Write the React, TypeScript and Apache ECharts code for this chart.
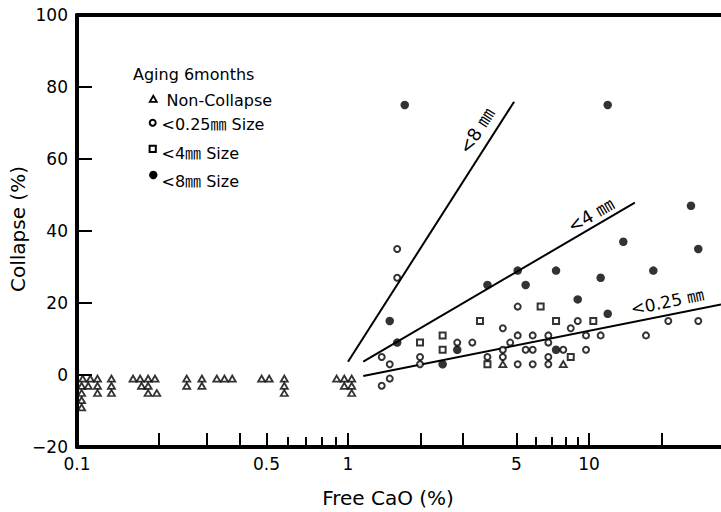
import React, { useEffect, useRef } from "react";
import * as echarts from "echarts";

// ---- axis ticks / labels ----
const yMin = -20;
const yMax = 100;
const yStep = 20;
const xLabelsLeft = [0.1, 0.5];
const xLabelsRight = [1, 5, 10];
const xMajorLeft = [0.2, 0.3, 0.4, 0.5, 1];
const xMinorLeft = [0.6, 0.7, 0.8, 0.9];
const xMajorRight = [2, 3, 5, 10, 20];
const xMinorRight = [6, 7, 8, 9];
const xMin = 0.1;
const xMid = 1;
const xMax = 35.3;

// ---- data: [Free CaO (%), Collapse (%)] ----
const nonCollapse: [number, number][] = [
  [0.105, -1], [0.112, -1], [0.119, -1],
  [0.104, -3], [0.11, -3], [0.119, -3],
  [0.104, -5], [0.119, -5],
  [0.104, -7], [0.104, -9],
  [0.134, -1], [0.134, -3], [0.134, -5],
  [0.161, -1], [0.171, -1], [0.183, -1], [0.194, -1],
  [0.173, -3], [0.183, -3],
  [0.183, -5], [0.197, -5],
  [0.254, -1], [0.254, -3],
  [0.289, -1], [0.289, -3],
  [0.328, -1], [0.35, -1], [0.374, -1],
  [0.48, -1], [0.512, -1],
  [0.582, -1], [0.582, -3], [0.582, -5],
  [0.908, -1], [0.969, -1], [1.036, -1],
  [0.969, -3], [1.036, -3],
  [1.036, -5],
  [4.39, 3], [7.82, 3],
];

const size025: [number, number][] = [
  [1.6, 27], [1.6, 35], [1.38, 5], [1.49, 3], [1.49, -1], [1.38, -3],
  [1.99, 5], [1.99, 3], [2.84, 9], [3.28, 9], [3.79, 5],
  [4.39, 13], [4.39, 7], [4.39, 5], [4.71, 9],
  [5.06, 19], [5.06, 11], [5.06, 3], [5.46, 7],
  [5.84, 11], [5.84, 7], [5.84, 3],
  [6.78, 11], [6.78, 9], [6.78, 5], [6.78, 3],
  [7.82, 7], [8.4, 13], [8.98, 15], [9.72, 11], [9.72, 7],
  [11.18, 11], [17.24, 11], [21.33, 15], [28.41, 15],
];

const size4: [number, number][] = [
  [1.99, 9], [2.47, 11], [2.47, 7], [3.53, 15], [3.79, 3],
  [6.3, 19], [7.3, 15], [8.4, 5], [10.42, 15],
];

const size8: [number, number][] = [
  [1.72, 75], [11.96, 75], [1.49, 15], [1.6, 9], [2.47, 3], [2.84, 7],
  [3.79, 25], [5.06, 29], [5.46, 25], [7.3, 29], [7.3, 7], [8.98, 21],
  [11.18, 27], [11.96, 17], [13.88, 37], [18.49, 29], [26.5, 47], [28.41, 35],
];

const fit8: [number, number][] = [[1.0, 3.7], [4.89, 75.9]];
const fit4: [number, number][] = [[1.157, 3.7], [15.5, 47.9]];
const fit025: [number, number][] = [[1.157, -0.3], [35.3, 19.6]];

const FONT = '"DejaVu Sans", "Noto Sans CJK KR", sans-serif';
const L = Math.log10;

const lg = (p: [number, number]) => [L(p[0]), p[1]];
const leftOf = (a: [number, number][]) => a.filter((p) => p[0] < xMid).map(lg);
const rightOf = (a: [number, number][]) => a.filter((p) => p[0] >= xMid).map(lg);

const fmtX = (v: number) => String(Math.round(Math.pow(10, v) * 100) / 100);
const fmtY = (v: number) => (v < 0 ? "\u2212" + Math.abs(v) : String(v));

export default function App() {
  const ref = useRef<HTMLDivElement>(null);

  useEffect(() => {
    if (!ref.current) return;
    const chart = echarts.init(ref.current, undefined, { renderer: "svg" });

    const top = 15;
    const height = 432;
    const leftX = 77;
    const midX = 348;
    const grids = [
      { left: leftX, top, width: midX - leftX, height },
      { left: midX, top, right: 0, height },
      { left: leftX, top, width: midX - leftX, height },
      { left: midX, top, right: 0, height },
    ];

    const black = "#000";
    const line4 = { show: true, onZero: false, lineStyle: { color: black, width: 4 } };
    const lblStyle = { color: black, fontSize: 17, fontFamily: FONT };

    const mainX = (gi: number, min: number, max: number, major: number[], labels: number[]) => ({
      type: "value",
      gridIndex: gi,
      min,
      max,
      position: "bottom",
      axisLine: line4,
      axisTick: {
        show: true,
        inside: true,
        length: 14,
        lineStyle: { color: black, width: 2 },
        customValues: major.map(L),
      },
      axisLabel: { ...lblStyle, margin: 8, customValues: labels.map(L), formatter: fmtX },
      splitLine: { show: false },
    });
    const topX = (gi: number, min: number, max: number) => ({
      type: "value",
      gridIndex: gi,
      min,
      max,
      position: "top",
      axisLine: line4,
      axisTick: { show: false },
      axisLabel: { show: false },
      splitLine: { show: false },
    });
    const minorX = (gi: number, min: number, max: number, minor: number[]) => ({
      type: "value",
      gridIndex: gi,
      min,
      max,
      position: "bottom",
      axisLine: { show: false, onZero: false },
      axisTick: {
        show: true,
        inside: true,
        length: 10,
        lineStyle: { color: black, width: 2 },
        customValues: minor.map(L),
      },
      axisLabel: { show: false },
      splitLine: { show: false },
    });
    const hiddenY = (gi: number) => ({
      type: "value",
      gridIndex: gi,
      min: yMin,
      max: yMax,
      interval: yStep,
      show: false,
    });

    const openStyle = { color: "#fff", borderColor: black, borderWidth: 2 };

    const scatterPair = (name: string, data: [number, number][], symbol: string, size: any, style: any) => [
      { type: "scatter", name, xAxisIndex: 0, yAxisIndex: 0, data: leftOf(data), symbol, symbolSize: size, itemStyle: style, z: 5 },
      { type: "scatter", name, xAxisIndex: 2, yAxisIndex: 1, data: rightOf(data), symbol, symbolSize: size, itemStyle: style, z: 5 },
    ];
    const fitLine = (name: string, data: [number, number][]) => ({
      type: "line",
      name,
      xAxisIndex: 2,
      yAxisIndex: 1,
      data: data.map(lg),
      symbol: "none",
      lineStyle: { color: black, width: 2 },
      z: 3,
    });

    const txt = (x: number, y: number, text: string, fontSize: number, extra: any = {}) => ({
      type: "text",
      x,
      y,
      style: {
        text,
        fill: black,
        font: `${fontSize}px ${FONT}`,
        align: "left",
        verticalAlign: "middle",
        ...extra,
      },
      z: 20,
    });
    const rotTxt = (x: number, y: number, text: string, fontSize: number, deg: number) => ({
      type: "text",
      x,
      y,
      rotation: (deg * Math.PI) / 180,
      style: {
        text,
        fill: black,
        font: `${fontSize}px ${FONT}`,
        align: "center",
        verticalAlign: "middle",
      },
      z: 20,
    });

    const option: any = {
      animation: false,
      backgroundColor: "#fff",
      grid: grids,
      xAxis: [
        mainX(0, L(xMin), L(xMid), xMajorLeft, xLabelsLeft),
        topX(0, L(xMin), L(xMid)),
        mainX(1, L(xMid), L(xMax), xMajorRight, xLabelsRight),
        topX(1, L(xMid), L(xMax)),
        minorX(2, L(xMin), L(xMid), xMinorLeft),
        minorX(3, L(xMid), L(xMax), xMinorRight),
      ],
      yAxis: [
        {
          type: "value",
          gridIndex: 0,
          min: yMin,
          max: yMax,
          interval: yStep,
          axisLine: line4,
          axisTick: { show: true, inside: true, length: 15, lineStyle: { color: black, width: 2 } },
          axisLabel: { ...lblStyle, margin: 9, formatter: fmtY, padding: [6, 0, 0, 0] },
          splitLine: { show: false },
        },
        hiddenY(1),
        hiddenY(2),
        hiddenY(3),
      ],
      series: [
        fitLine("<8 ㎜", fit8),
        fitLine("<4 ㎜", fit4),
        fitLine("<0.25 ㎜", fit025),
        ...scatterPair("Non-Collapse", nonCollapse, "triangle", [7, 6], { ...openStyle, borderWidth: 1.8 }),
        ...scatterPair("<0.25㎜ Size", size025, "circle", 6, openStyle),
        ...scatterPair("<4㎜ Size", size4, "rect", 6, openStyle),
        ...scatterPair("<8㎜ Size", size8, "circle", 8.5, { color: black }),
      ],
      graphic: [
        txt(133, 74, "Aging 6months", 16),
        {
          type: "polygon",
          shape: { points: [[153.3, 95.8], [149.8, 101.8], [156.8, 101.8]] },
          style: { fill: "#fff", stroke: black, lineWidth: 1.8 },
          z: 20,
        },
        txt(166.5, 100.7, "Non-Collapse", 16),
        { type: "circle", shape: { cx: 152.7, cy: 122.7, r: 3 }, style: { fill: "#fff", stroke: black, lineWidth: 2 }, z: 20 },
        txt(161.5, 124, "<0.25㎜ Size", 16),
        { type: "rect", shape: { x: 149.6, y: 145.8, width: 6.2, height: 6.2 }, style: { fill: "#fff", stroke: black, lineWidth: 2 }, z: 20 },
        txt(161.5, 153.3, "<4㎜ Size", 16),
        { type: "circle", shape: { cx: 153.3, cy: 175, r: 4.2 }, style: { fill: black }, z: 20 },
        txt(161.5, 181, "<8㎜ Size", 16),
        rotTxt(476.7, 130.7, "<8 ㎜", 18, 57.4),
        rotTxt(590.7, 215, "<4 ㎜", 18, 30.3),
        rotTxt(667.3, 301.7, "<0.25 ㎜", 17, 11.4),
        txt(388, 498, "Free CaO (%)", 20, { align: "center" }),
        rotTxt(18, 229, "Collapse (%)", 20, 90),
      ],
    };

    chart.setOption(option);
    return () => chart.dispose();
  }, []);

  return (
    <div
      ref={ref}
      style={{ position: "absolute", left: 0, top: 0, width: 721, height: 512, background: "#fff" }}
    />
  );
}
